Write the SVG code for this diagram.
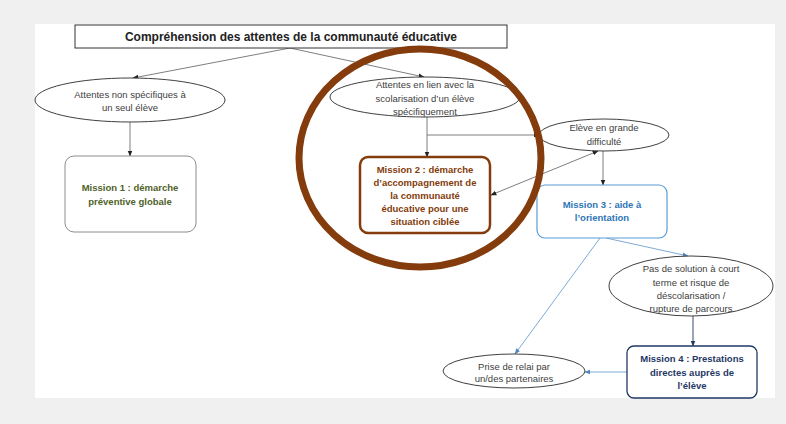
<svg xmlns="http://www.w3.org/2000/svg" width="786" height="424" viewBox="0 0 786 424">
<defs>
<style>
.t{font-family:"Liberation Sans",Arial,sans-serif;font-size:9.5px;fill:#404040;text-anchor:middle}
.b{font-weight:bold}
.el{fill:#fff;stroke:#404040;stroke-width:1}
.c{fill:none;stroke:#6f6f6f;stroke-width:0.9}
.cb{fill:none;stroke:#6fa0d0;stroke-width:0.9}
.cn{fill:none;stroke:#1f3864;stroke-width:0.9}
</style>
<marker id="ag" viewBox="0 0 10 10" refX="9" refY="5" markerWidth="6" markerHeight="6" orient="auto-start-reverse" markerUnits="userSpaceOnUse"><path d="M0,1 L10,5 L0,9 z" fill="#222"/></marker>
<marker id="ab" viewBox="0 0 10 10" refX="9" refY="5" markerWidth="6" markerHeight="6" orient="auto" markerUnits="userSpaceOnUse"><path d="M0,1 L10,5 L0,9 z" fill="#4f86c0"/></marker>
<marker id="an" viewBox="0 0 10 10" refX="9" refY="5" markerWidth="6" markerHeight="6" orient="auto" markerUnits="userSpaceOnUse"><path d="M0,1 L10,5 L0,9 z" fill="#1f3864"/></marker>
</defs>
<rect x="0" y="0" width="786" height="424" fill="#f0f0f0"/>
<rect x="35" y="24" width="740" height="374" fill="#fff"/>

<g id="connectors">
<line class="c" x1="290" y1="48" x2="133" y2="78" marker-end="url(#ag)"/>
<line class="c" x1="290" y1="48" x2="424" y2="77" marker-end="url(#ag)"/>
<line class="c" x1="130" y1="122" x2="130" y2="156" marker-end="url(#ag)"/>
<line class="c" x1="427" y1="117" x2="427" y2="157" marker-end="url(#ag)"/>
<line class="c" x1="427" y1="135" x2="539" y2="135" marker-end="url(#ag)"/>
<line class="c" x1="598" y1="151" x2="491" y2="195" marker-start="url(#ag)" marker-end="url(#ag)"/>
<line class="c" x1="603" y1="151" x2="603" y2="185" marker-end="url(#ag)"/>
<line class="cb" x1="600" y1="238" x2="515" y2="354" marker-end="url(#ab)"/>
<line class="cb" x1="606" y1="238" x2="688" y2="256" marker-end="url(#ab)"/>
<line class="cn" x1="693" y1="316" x2="693" y2="346" marker-end="url(#an)"/>
<line class="cb" x1="627" y1="372" x2="585" y2="372" marker-end="url(#ab)"/>
</g>

<g id="title">
<rect x="75" y="25" width="432" height="23" fill="#fff" stroke="#333" stroke-width="1"/>
<text class="t b" x="291" y="41" style="font-size:12px;fill:#222">Compréhension des attentes de la communauté éducative</text>
</g>

<g id="attentes-non-specifiques">
<ellipse class="el" cx="130" cy="100" rx="95" ry="22"/>
<text class="t" x="130" y="98">Attentes non spécifiques à</text>
<text class="t" x="130" y="111">un seul élève</text>
</g>

<g id="attentes-en-lien">
<ellipse class="el" cx="425" cy="97" rx="95" ry="20"/>
<text class="t" x="425" y="88">Attentes en lien avec la</text>
<text class="t" x="425" y="102">scolarisation d’un élève</text>
<text class="t" x="425" y="115">spécifiquement</text>
</g>

<g id="eleve-difficulte">
<ellipse class="el" cx="604" cy="135" rx="65" ry="16"/>
<text class="t" x="604" y="131">Elève en grande</text>
<text class="t" x="604" y="145">difficulté</text>
</g>

<g id="mission1">
<rect x="65" y="156" width="131" height="76" rx="9" fill="#fff" stroke="#8c8c8c" stroke-width="1"/>
<text class="t b" x="130" y="191" style="fill:#4f6228">Mission 1 : démarche</text>
<text class="t b" x="130" y="205" style="fill:#4f6228">préventive globale</text>
</g>

<g id="mission2">
<rect x="360" y="157" width="130" height="76" rx="8" fill="#fff" stroke="#843c0c" stroke-width="2.5"/>
<text class="t b" x="425" y="173" style="fill:#843c0c">Mission 2 : démarche</text>
<text class="t b" x="425" y="186" style="fill:#843c0c">d’accompagnement de</text>
<text class="t b" x="425" y="199" style="fill:#843c0c">la communauté</text>
<text class="t b" x="425" y="212" style="fill:#843c0c">éducative pour une</text>
<text class="t b" x="425" y="225" style="fill:#843c0c">situation ciblée</text>
</g>

<g id="mission3">
<rect x="537" y="185" width="130" height="53" rx="8" fill="#fff" stroke="#5b9bd5" stroke-width="1.2"/>
<text class="t b" x="602" y="208" style="fill:#2e75b6">Mission 3 : aide à</text>
<text class="t b" x="602" y="221" style="fill:#2e75b6">l’orientation</text>
</g>

<g id="pas-de-solution">
<ellipse class="el" cx="691" cy="286" rx="82" ry="30"/>
<text class="t" x="691" y="272">Pas de solution à court</text>
<text class="t" x="691" y="286">terme et risque de</text>
<text class="t" x="691" y="299">déscolarisation /</text>
<text class="t" x="691" y="312">rupture de parcours</text>
</g>

<g id="mission4">
<rect x="627" y="346" width="130" height="52" rx="7" fill="#fff" stroke="#1f3864" stroke-width="1.3"/>
<text class="t b" x="692" y="362" style="fill:#1f3864">Mission 4 : Prestations</text>
<text class="t b" x="692" y="376" style="fill:#1f3864">directes auprès de</text>
<text class="t b" x="692" y="389" style="fill:#1f3864">l’élève</text>
</g>

<g id="prise-de-relai">
<ellipse class="el" cx="514" cy="371" rx="71" ry="17"/>
<text class="t" x="514" y="370">Prise de relai par</text>
<text class="t" x="514" y="382">un/des partenaires</text>
</g>

<g id="highlight">
<ellipse cx="420" cy="158" rx="121" ry="109" fill="none" stroke="#843c0c" stroke-width="7"/>
</g>
</svg>
